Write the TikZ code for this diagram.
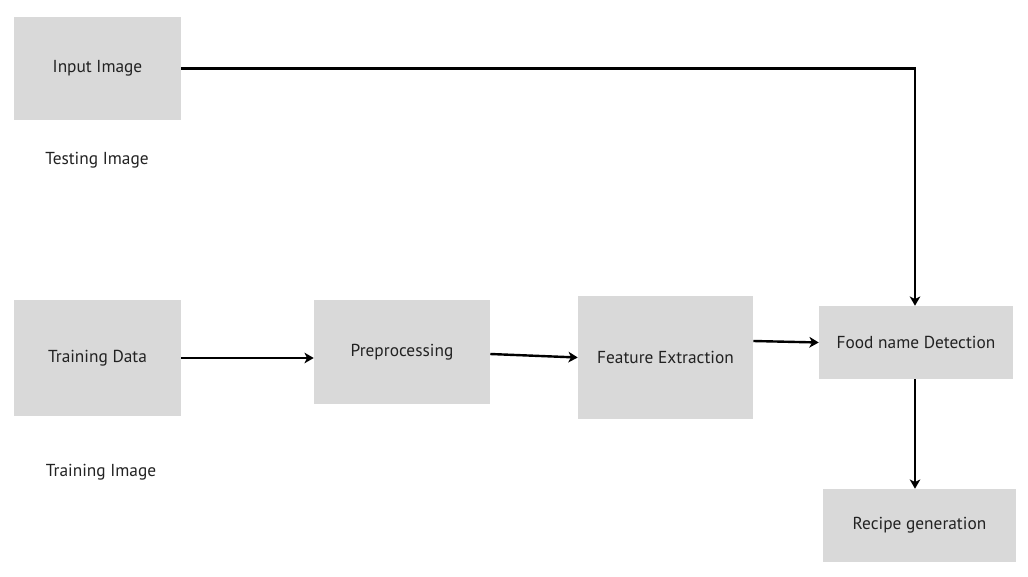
\documentclass[tikz,border=0pt]{standalone}
\usepackage{fontspec}
\setmainfont{PT Sans}
\usepackage{tikz}
\usetikzlibrary{arrows, arrows.meta, positioning}
\definecolor{boxgray}{HTML}{D9D9D9}
\definecolor{textgray}{HTML}{222222}
\tikzset{
	font={\fontsize{13}{15}\selectfont}}
\tikzstyle{block} = [rectangle, fill=boxgray, text=textgray, text centered, inner sep=0pt]
\tikzstyle{caption} = [rectangle, text=textgray, inner sep=0pt]
\tikzstyle{arrow} = [line width=1.8pt,-{Stealth[length=7pt,width=8pt,inset=2pt]}]

\begin{document}
\begin{tikzpicture}[x=0.75pt, y=-0.75pt]
\useasboundingbox (0,0) rectangle (1028,577);

\node[block, minimum width=125.25pt, minimum height=77.25pt] (input) at (97.5,68.5) {Input Image};
\node[caption] (testing) at (97,160) {Testing Image};
\node[block, minimum width=125.25pt, minimum height=87pt] (train) at (97.5,358) {Training Data};
\node[caption] (trainimg) at (101,472) {Training Image};
\node[block, minimum width=132pt, minimum height=78pt] (prep) at (402,352) {Preprocessing};
\node[block, minimum width=131.25pt, minimum height=92.25pt] (feat) at (665.5,357.5) {Feature Extraction};
\node[block, minimum width=145.5pt, minimum height=54.75pt] (food) at (916,342.5) {Food name Detection};
\node[block, minimum width=144.75pt, minimum height=54.75pt] (recipe) at (919.5,525.5) {Recipe generation};
\coordinate (corner) at (915,68.5);

% Pfeile
\draw[arrow] (input.east) -- (corner) -- (food.north -| corner);
\draw[arrow] (train.east) -- (prep.west |- 0,358);
\draw[arrow] (prep.east |- 0,354) -- (feat.west);
\draw[arrow] (feat.east |- 0,341) -- (food.west);
\draw[arrow] (food.south -| corner) -- (recipe.north -| corner);

\end{tikzpicture}
\end{document}
